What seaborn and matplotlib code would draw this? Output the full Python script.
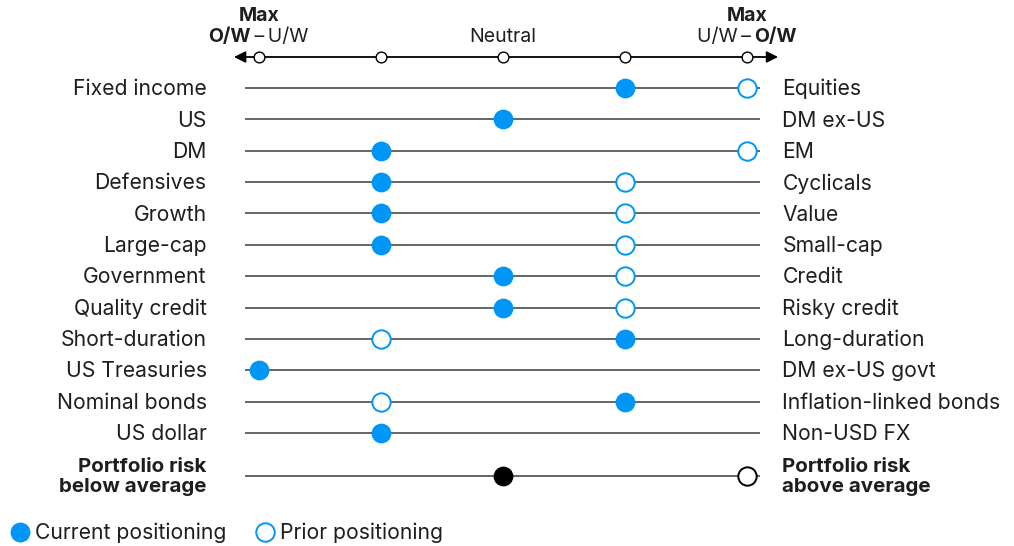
import numpy as np
import pandas as pd
import matplotlib
matplotlib.use("Agg")
import matplotlib.pyplot as plt
from matplotlib.lines import Line2D
import seaborn as sns

# Asset-pair labels (left = overweight at -2, right = overweight at +2)
left_labels = ["Fixed income", "US", "DM", "Defensives", "Growth", "Large-cap",
               "Government", "Quality credit", "Short-duration", "US Treasuries",
               "Nominal bonds", "US dollar", "Portfolio risk\nbelow average"]
right_labels = ["Equities", "DM ex-US", "EM", "Cyclicals", "Value", "Small-cap",
                "Credit", "Risky credit", "Long-duration", "DM ex-US govt",
                "Inflation-linked bonds", "Non-USD FX", "Portfolio risk\nabove average"]
# Positioning on a -2 .. +2 scale
current = [1, 0, -1, -1, -1, -1, 0, 0, 1, -2, 1, -1, 0]
prior = [2, np.nan, 2, 1, 1, 1, 1, 1, -1, np.nan, -1, np.nan, 2]
scale_points = [-2, -1, 0, 1, 2]

BLUE = "#0096F7"
TEXT = "#1e1e1e"
LINE = "#3c3c3c"

sns.set_theme(style="white")
plt.rcParams["font.family"] = ["Inter", "DejaVu Sans"]

n = len(left_labels)
ypos = [float(i) for i in range(n - 1)] + [n - 1 + 0.37]
df = pd.DataFrame({"left": left_labels, "right": right_labels,
                   "current": current, "prior": prior, "y": ypos})
df["risk"] = [False] * (n - 1) + [True]

fig = plt.figure(figsize=(10.14, 5.46), dpi=100)
ax = fig.add_axes([0, 0, 1, 1])
unit_x, unit_y = 122.0, 31.36
ax.set_xlim(-2 - 259 / unit_x, 2 + (1014 - 747) / unit_x)
ax.set_ylim((546 - 88) / unit_y, -88 / unit_y)
ax.axis("off")

# Row guide lines
ax.hlines(df["y"], -2.115, 2.107, color=LINE, lw=1.1, zorder=1)

fs = 15.2
fs_bold = 14.8
dy = 1.2 / unit_y
for _, r in df.iterrows():
    weight = "bold" if r["risk"] else "normal"
    size = fs_bold if r["risk"] else fs
    ax.text(-2.43, r["y"] + dy, r["left"], ha="right", va="center", fontsize=size,
            color=TEXT, fontweight=weight, linespacing=1.14)
    ax.text(2.29, r["y"] + dy, r["right"], ha="left", va="center", fontsize=size,
            color=TEXT, fontweight=weight, linespacing=1.14)

body = df[~df["risk"]]
risk = df[df["risk"]]
msize = 175
sns.scatterplot(data=body, x="prior", y="y", s=msize, color="white",
                edgecolor=BLUE, linewidth=1.4, zorder=3, ax=ax, legend=False)
sns.scatterplot(data=body, x="current", y="y", s=msize, color=BLUE,
                edgecolor=BLUE, linewidth=1.0, zorder=4, ax=ax, legend=False)
sns.scatterplot(data=risk, x="prior", y="y", s=msize, color="white",
                edgecolor="black", linewidth=1.4, zorder=3, ax=ax, legend=False)
sns.scatterplot(data=risk, x="current", y="y", s=msize, color="black",
                edgecolor="black", linewidth=1.0, zorder=4, ax=ax, legend=False)

# Header scale
yh = -31 / unit_y
ax.annotate("", xy=(-2.205, yh), xytext=(2.255, yh),
            arrowprops=dict(arrowstyle="<|-|>", color="black", lw=1.3,
                            mutation_scale=17, shrinkA=0, shrinkB=0), zorder=2)
ax.scatter(scale_points, [yh] * len(scale_points), s=60, facecolor="white",
           edgecolor="black", linewidth=1.0, zorder=3)

hfs = 14.0
y_top = -72 / unit_y
y_mid = -51 / unit_y
ax.text(-2, y_top, "Max", ha="center", va="center", fontsize=hfs,
        fontweight="bold", color=TEXT)
ax.text(2, y_top, "Max", ha="center", va="center", fontsize=hfs,
        fontweight="bold", color=TEXT)
ax.text(0, y_mid, "Neutral", ha="center", va="center", fontsize=hfs, color=TEXT)
ax.text(-2.066, y_mid, "O/W", ha="right", va="center", fontsize=hfs,
        fontweight="bold", color=TEXT)
ax.text(-2.066, y_mid, "\u2009–\u2009U/W", ha="left", va="center", fontsize=hfs,
        color=TEXT)
ax.text(2.057, y_mid, "U/W\u2009–\u2009", ha="right", va="center", fontsize=hfs,
        color=TEXT)
ax.text(2.057, y_mid, "O/W", ha="left", va="center", fontsize=hfs,
        fontweight="bold", color=TEXT)

handles = [
    Line2D([], [], ls="none", marker="o", markersize=13.3, markerfacecolor=BLUE,
           markeredgecolor=BLUE, label="Current positioning"),
    Line2D([], [], ls="none", marker="o", markersize=13.3, markerfacecolor="white",
           markeredgecolor=BLUE, markeredgewidth=1.4, label="Prior positioning"),
]
leg = ax.legend(handles=handles, loc="center left", ncol=2, frameon=False,
                bbox_to_anchor=(10 / 1014, 1 - 533 / 546), borderaxespad=0,
                borderpad=0, handlelength=0.95, handletextpad=0.25,
                columnspacing=1.34, fontsize=fs)
for t in leg.get_texts():
    t.set_color(TEXT)

fig.savefig("out.png", dpi=100)
